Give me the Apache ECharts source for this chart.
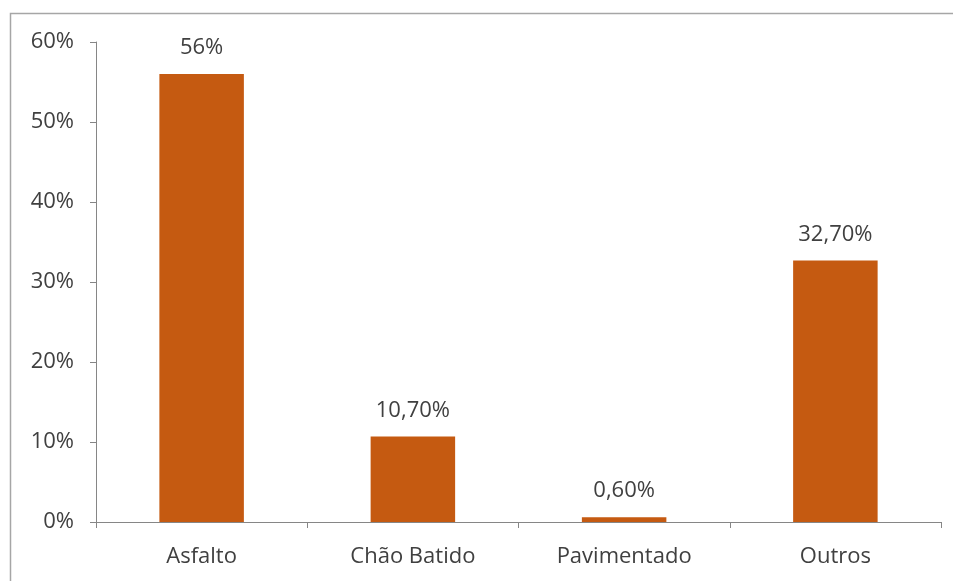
<!DOCTYPE html>
<html>
<head>
<meta charset="utf-8">
<script src="https://cdn.jsdelivr.net/npm/echarts@6/dist/echarts.min.js"></script>
<style>
  html, body { margin: 0; padding: 0; background: #fff; }
  #chart { width: 953px; height: 581px; }
</style>
</head>
<body>
<div id="chart"></div>
<script>
// superficie das vias
const categories = ['Asfalto', 'Chão Batido', 'Pavimentado', 'Outros'];
const values = [56, 10.7, 0.6, 32.7];
const valueLabels = ['56%', '10,70%', '0,60%', '32,70%'];

const chart = echarts.init(document.getElementById('chart'));
const font = '"Open Sans", sans-serif';

chart.setOption({
    animation: false,
    graphic: [{
        type: 'rect',
        shape: { x: 10.5, y: 13.5, width: 960, height: 600 },
        style: { fill: 'none', stroke: '#a6a6a6', lineWidth: 1.5 },
        silent: true,
    }],
    grid: { left: 96, right: 12, top: 42, bottom: 59 },
    xAxis: {
        type: 'category',
        data: categories,
        axisLine: { lineStyle: { color: '#868686', width: 1 } },
        axisTick: { show: true, length: 6, lineStyle: { color: '#868686' } },
        axisLabel: { color: '#404040', fontSize: 22, fontFamily: font, margin: 24 },
    },
    yAxis: {
        type: 'value',
        min: 0,
        max: 60,
        interval: 10,
        axisLine: { show: true, lineStyle: { color: '#868686', width: 1 } },
        axisTick: { show: true, length: 6, lineStyle: { color: '#868686' } },
        splitLine: { show: false },
        axisLabel: {
            color: '#404040', fontSize: 22, fontFamily: font, margin: 22,
            formatter: v => v + '%',
        },
    },
    series: [{
        type: 'bar',
        data: values,
        barWidth: '40%',
        itemStyle: { color: '#C55A11' },
        label: {
            show: true,
            position: 'top',
            distance: 15,
            color: '#404040',
            fontSize: 22,
            fontFamily: font,
            formatter: p => valueLabels[p.dataIndex],
        },
    }],
});
</script>
</body>
</html>
